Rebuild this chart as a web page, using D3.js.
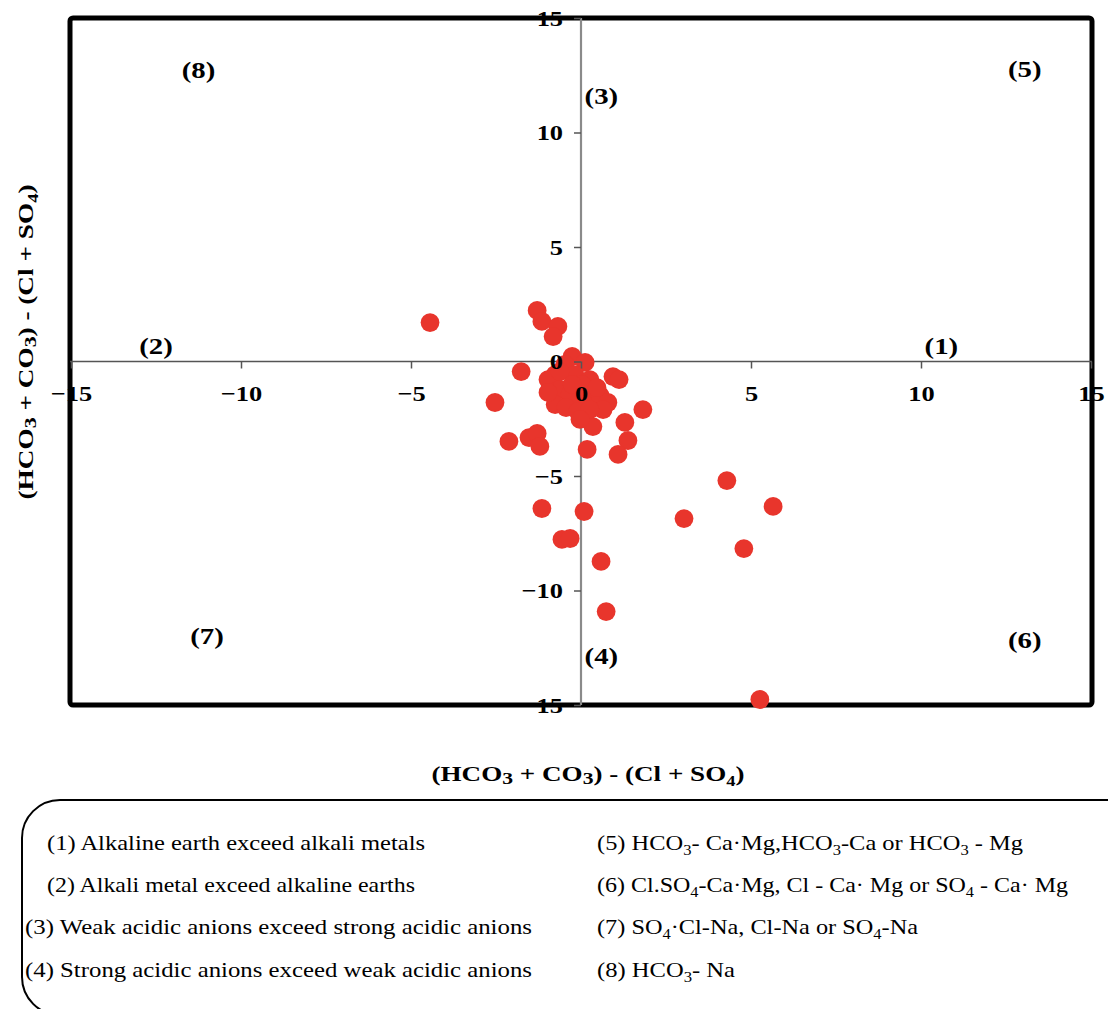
<!DOCTYPE html>
<html>
<head>
<meta charset="utf-8">
<script src="https://cdn.jsdelivr.net/npm/d3@7"></script>
<style>
  html, body { margin: 0; padding: 0; background: #fff; }
  svg { display: block; }
  svg text { font-family: "Liberation Serif", "Times New Roman", Times, Tinos, serif; }
</style>
</head>
<body>
<svg id="chart" width="1108" height="1009"></svg>
<script>
// ---------------- data ----------------
const xValues = [-4.44, -1.29, -1.15, -0.68, -0.82, -1.76, -2.53, -2.12, -1.53, -1.29, -1.21,
  -0.26, 0.12, -0.47, -0.76, -0.97, -0.18, 0.26, -0.62, -0.32, -0.03, -0.76, -0.44, -0.09,
  0.26, 0.03, 0.56, 0.79, 0.65, 0.94, 1.12, 0.35, 1.82, 1.29, 1.38, 1.09, 0.18,
  4.29, 5.65, 3.03, -1.15, 0.09, -0.56, -0.32, 0.59, 0.74, 4.79, 5.26,
  -0.62, -0.26, -0.97, 0.26, -0.03, 0.47];
const yValues = [1.70, 2.23, 1.75, 1.53, 1.09, -0.44, -1.79, -3.49, -3.32, -3.14, -3.71,
  0.22, -0.04, -0.13, -0.57, -0.79, -0.57, -0.79, -1.22, -1.44, -1.66, -1.88, -2.01, -2.18,
  -1.44, -1.00, -1.48, -1.79, -2.10, -0.66, -0.79, -2.84, -2.10, -2.66, -3.45, -4.06, -3.84,
  -5.20, -6.33, -6.86, -6.42, -6.55, -7.77, -7.73, -8.73, -10.92, -8.17, -14.76,
  -0.44, -1.00, -1.35, -2.10, -2.53, -1.14];
const xTickValues = [-15, -10, -5, 0, 5, 10, 15];
const yTickValues = [-15, -10, -5, 0, 5, 10, 15];
const quadrantNames = ["(1)", "(2)", "(3)", "(4)", "(5)", "(6)", "(7)", "(8)"];
const axisTitle = "(HCO_3 + CO_3) - (Cl + SO~4)";
// legend: "_x" = slightly lowered small char, "~x" = subscript
const legendLeft = [
  "(1) Alkaline earth exceed alkali metals",
  "(2) Alkali metal exceed alkaline earths",
  "(3) Weak acidic anions exceed strong acidic anions",
  "(4) Strong acidic anions exceed weak acidic anions"
];
const legendRight = [
  "(5) HCO~3- Ca·Mg,HCO~3-Ca or HCO~3 - Mg",
  "(6) Cl.SO~4-Ca·Mg, Cl - Ca· Mg or SO~4 - Ca· Mg",
  "(7) SO~4·Cl-Na, Cl-Na or SO~4-Na",
  "(8) HCO~3- Na"
];

// ---------------- layout ----------------
const SX = 1.2;
const svg = d3.select("#chart");
const plot = { left: 70, right: 1092, top: 18, bottom: 705 };
const x = d3.scaleLinear().domain([-15, 15]).range([plot.left + 1, plot.right - 1]);
const y = d3.scaleLinear().domain([-15, 15]).range([plot.bottom, plot.top]);

// quadrant label positions (data coordinates), same order as quadrantNames
const quadrantPos = [[10.6, 0.7], [-12.5, 0.7], [0.6, 11.6], [0.6, -12.85],
                     [13.05, 12.8], [13.05, -12.15], [-11.0, -11.95], [-11.25, 12.75]];

// frame
svg.append("rect")
  .attr("x", plot.left).attr("y", plot.top)
  .attr("width", plot.right - plot.left).attr("height", plot.bottom - plot.top)
  .attr("rx", 3)
  .attr("fill", "none").attr("stroke", "#000").attr("stroke-width", 5);

// cross axes lines
svg.append("line")
  .attr("x1", plot.left).attr("x2", plot.right)
  .attr("y1", y(0)).attr("y2", y(0))
  .attr("stroke", "#555").attr("stroke-width", 1.6);
svg.append("line")
  .attr("x1", x(0)).attr("x2", x(0))
  .attr("y1", plot.top).attr("y2", plot.bottom)
  .attr("stroke", "#8a8a8a").attr("stroke-width", 2.2);

// axes with ticks
const xAxis = d3.axisBottom(x).tickValues(xTickValues).tickSize(7).tickPadding(17)
  .tickFormat(d3.format("d"));
const yAxis = d3.axisLeft(y).tickValues(yTickValues).tickSize(7).tickPadding(11)
  .tickFormat(d3.format("d"));

const gx = svg.append("g").attr("transform", `translate(0,${y(0)})`).call(xAxis);
const gy = svg.append("g").attr("transform", `translate(${x(0)},0)`).call(yAxis);
[gx, gy].forEach(g => {
  g.attr("font-family", null);
  g.select(".domain").remove();
  g.selectAll(".tick line").attr("stroke", "#555").attr("stroke-width", 1.5);
});

// points
svg.append("g").selectAll("circle")
  .data(xValues.map((v, i) => [v, yValues[i]]))
  .join("circle")
  .attr("cx", d => x(d[0]))
  .attr("cy", d => y(d[1]))
  .attr("r", 9.4)
  .attr("fill", "#e8352c");

// tick labels on top of points
gx.raise(); gy.raise();
gx.selectAll(".tick text")
  .attr("font-weight", "bold").attr("font-size", 22)
  .attr("fill", "#000")
  .attr("transform", `scale(${SX},1)`);
gy.selectAll(".tick text")
  .attr("font-weight", "bold").attr("font-size", 22)
  .attr("fill", "#000")
  .attr("x", -18 / SX)
  .attr("transform", `scale(${SX},1)`);

// quadrant labels
svg.append("g").selectAll("text")
  .data(quadrantNames)
  .join("text")
  .attr("transform", (d, i) => `translate(${x(quadrantPos[i][0])},${y(quadrantPos[i][1])}) scale(${SX},1)`)
  .attr("text-anchor", "middle")
  .attr("dy", "0.35em")
  .attr("font-weight", "bold").attr("font-size", 24)
  .text(d => d);

// rich text helper
function richText(sel, str, baseSize) {
  const parts = [];
  let buf = "";
  for (let i = 0; i < str.length; i++) {
    const c = str[i];
    if ((c === "_" || c === "~") && i + 1 < str.length) {
      if (buf) { parts.push({ t: buf, k: "n" }); buf = ""; }
      parts.push({ t: str[i + 1], k: c === "_" ? "low" : "sub" });
      i++;
    } else buf += c;
  }
  if (buf) parts.push({ t: buf, k: "n" });
  let shift = 0;
  parts.forEach(p => {
    const ts = sel.append("tspan").text(p.t);
    let target = 0;
    if (p.k === "low") { ts.attr("font-size", baseSize * 0.8); target = baseSize * 0.12; }
    else if (p.k === "sub") { ts.attr("font-size", baseSize * 0.68); target = baseSize * 0.22; }
    ts.attr("dy", target - shift);
    shift = target;
  });
}

// axis titles
const xt = svg.append("text")
  .attr("x", 588).attr("y", 781)
  .attr("text-anchor", "middle")
  .attr("font-weight", "bold").attr("font-size", 22)
  .attr("textLength", 313).attr("lengthAdjust", "spacingAndGlyphs");
richText(xt, axisTitle, 22);

const yt = svg.append("text")
  .attr("transform", "translate(33,342) rotate(-90)")
  .attr("text-anchor", "middle")
  .attr("font-weight", "bold").attr("font-size", 22)
  .attr("textLength", 315).attr("lengthAdjust", "spacingAndGlyphs");
richText(yt, axisTitle, 22);

// legend box
svg.append("rect")
  .attr("x", 22).attr("y", 800)
  .attr("width", 1200).attr("height", 215)
  .attr("rx", 38)
  .attr("fill", "none").attr("stroke", "#000").attr("stroke-width", 2);

const legendBase = [850, 892, 934, 977];
const leftX = [47, 47, 25, 25];
const leftW = [378, 368, 507, 507];
const rightW = [426, 471, 321, 138];
legendLeft.forEach((s, i) => {
  const t = svg.append("text")
    .attr("x", leftX[i]).attr("y", legendBase[i])
    .attr("font-size", 21)
    .attr("textLength", leftW[i]).attr("lengthAdjust", "spacingAndGlyphs");
  richText(t, s, 21);
});
legendRight.forEach((s, i) => {
  const t = svg.append("text")
    .attr("x", 597).attr("y", legendBase[i])
    .attr("font-size", 21)
    .attr("textLength", rightW[i]).attr("lengthAdjust", "spacingAndGlyphs");
  richText(t, s, 21);
});
</script>
</body>
</html>
